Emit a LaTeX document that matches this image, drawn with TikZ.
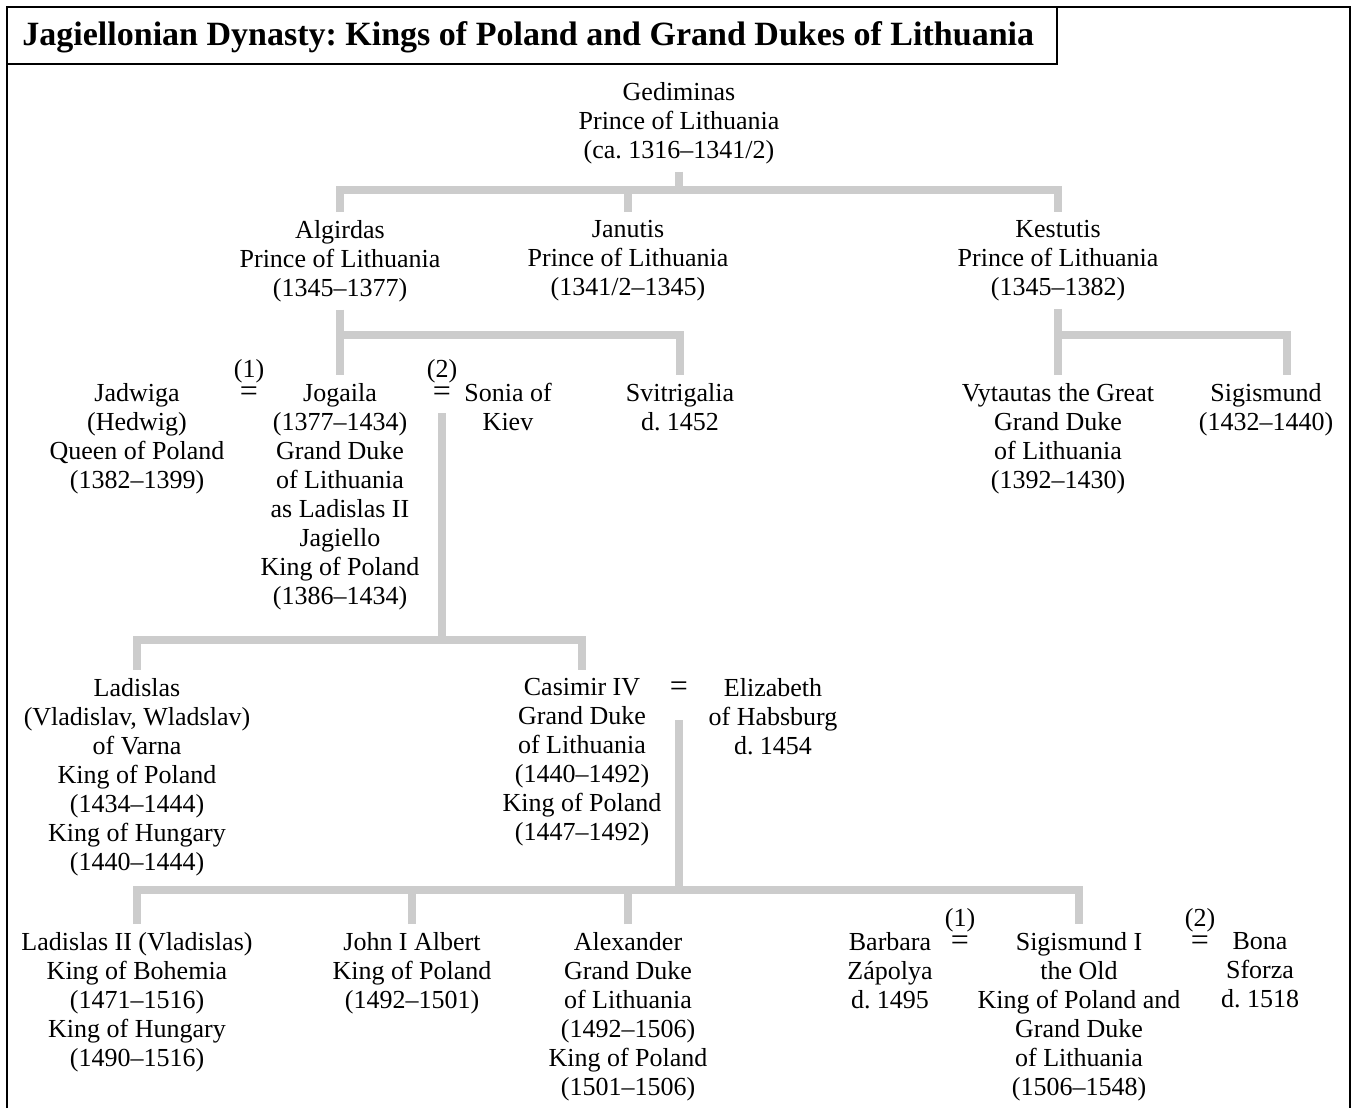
\documentclass[tikz,border=0pt]{standalone}
\usepackage{fontspec}
\setmainfont{Liberation Serif}
\definecolor{TreeGray}{HTML}{CCCCCC}
\frenchspacing

\begin{document}
\begin{tikzpicture}[
    x=0.5pt, y=-0.5pt,
    person/.style={
      anchor=north,
      align=center,
      inner sep=0pt,
      outer sep=4pt,
      font=\fontsize{13}{14.5}\selectfont
    },
    wed/.style={anchor=base, inner sep=0pt, outer sep=0pt, font=\fontsize{16}{18}\selectfont},
    wednum/.style={inner sep=0pt, label distance=1.5pt, font=\fontsize{13}{14.5}\selectfont},
    tree/.style={draw=TreeGray, line width=4pt, line join=miter},
    heading/.style={anchor=west, inner sep=0pt, font=\fontsize{17}{20}\selectfont\bfseries}
  ]
    \useasboundingbox (0,0) rectangle (1353,1108);
    \draw[line width=1.2pt] (7,1108) |- (1350,7) -- (1350,1108);
    \draw[line width=0.6pt] (7,7) rectangle (1057,64);
    \node[heading] (title) at (22,37) {Jagiellonian Dynasty: Kings of Poland and Grand Dukes of Lithuania};

    \node[person] (gedim) at (679,74) {Gediminas\\Prince of Lithuania\\(ca. 1316--1341/2)};

    \node[person] (algirdas) at (340,212) {Algirdas\\Prince of Lithuania\\(1345--1377)};
    \node[person] (janutis) at (628,212) {Janutis\\Prince of Lithuania\\(1341/2--1345)};
    \node[person] (kestutis) at (1058,212) {Kestutis\\Prince of Lithuania\\(1345--1382)};

    \node[person] (jadwiga) at (137,375) {Jadwiga\\(Hedwig)\\Queen of Poland\\(1382--1399)};
    \node[wed,label={[wednum]above:(1)}] (m1) at (249,401) {=};
    \node[person] (jogaila) at (340,375) {Jogaila\\(1377--1434)\\Grand Duke\\of Lithuania\\as Ladislas II\\Jagiello\\King of Poland\\(1386--1434)};
    \node[wed,label={[wednum]above:(2)}] (m2) at (442,401) {=};
    \node[person] (sonia) at (508,375) {Sonia of\\Kiev};
    \node[person] (svitrigalia) at (680,375) {Svitrigalia\\d. 1452};
    \node[person] (vytautas) at (1058,375) {Vytautas the Great\\Grand Duke\\of Lithuania\\(1392--1430)};
    \node[person] (sigismund) at (1266,375) {Sigismund\\(1432--1440)};

    \node[person] (ladislas) at (137,670) {Ladislas\\(Vladislav, Wladslav)\\of Varna\\King of Poland\\(1434--1444)\\King of Hungary\\(1440--1444)};
    \node[person] (casimir) at (582,670) {Casimir IV\\Grand Duke\\of Lithuania\\(1440--1492)\\King of Poland\\(1447--1492)};
    \node[wed] (m3) at (679,696) {=};
    \node[person] (elizabeth) at (773,670) {Elizabeth\\of Habsburg\\d. 1454};

    \node[person] (ladislasii) at (137,924) {Ladislas II (Vladislas)\\King of Bohemia\\(1471--1516)\\King of Hungary\\(1490--1516)};
    \node[person] (john) at (412,924) {John I Albert\\King of Poland\\(1492--1501)};
    \node[person] (alexander) at (628,924) {Alexander\\Grand Duke\\of Lithuania\\(1492--1506)\\King of Poland\\(1501--1506)};
    \node[person] (barbara) at (890,924) {Barbara\\Zápolya\\d. 1495};
    \node[wed,label={[wednum]above:(1)}] (m4) at (960,950) {=};
    \node[person] (sigismundi) at (1079,924) {Sigismund I\\the Old\\King of Poland and\\Grand Duke\\of Lithuania\\(1506--1548)};
    \node[wed,label={[wednum]above:(2)}] (m5) at (1200,950) {=};
    \node[person] (bona) at (1260,924) {Bona\\Sforza\\d. 1518};

    \coordinate (b1) at (679,190);
    \draw[tree] (gedim.south) -- (b1);
    \draw[tree] (algirdas.north) |- (b1) -| (kestutis.north);
    \draw[tree] (janutis.north) -- (janutis.north |- b1);

    \coordinate (b2) at (340,335);
    \draw[tree] (algirdas.south) -- (jogaila.north);
    \draw[tree] (b2) -| (svitrigalia.north);

    \coordinate (b3) at (1058,335);
    \coordinate (b3e) at (1287,335);
    \draw[tree] (kestutis.south) -- (vytautas.north);
    \draw[tree] (b3) -- (b3e) -- (b3e |- sigismund.north);

    \coordinate (b4) at (442,640);
    \draw[tree,shorten <=6pt] (m2.south) -- (b4);
    \draw[tree] (ladislas.north) |- (b4) -| (casimir.north);

    \coordinate (b5) at (679,890);
    \draw[tree,shorten <=12pt] (m3.south) -- (b5);
    \draw[tree] (ladislasii.north) |- (b5) -| (sigismundi.north);
    \foreach \k in {john,alexander}
      \draw[tree] (\k.north) -- (\k.north |- b5);
  \end{tikzpicture}
\end{document}
